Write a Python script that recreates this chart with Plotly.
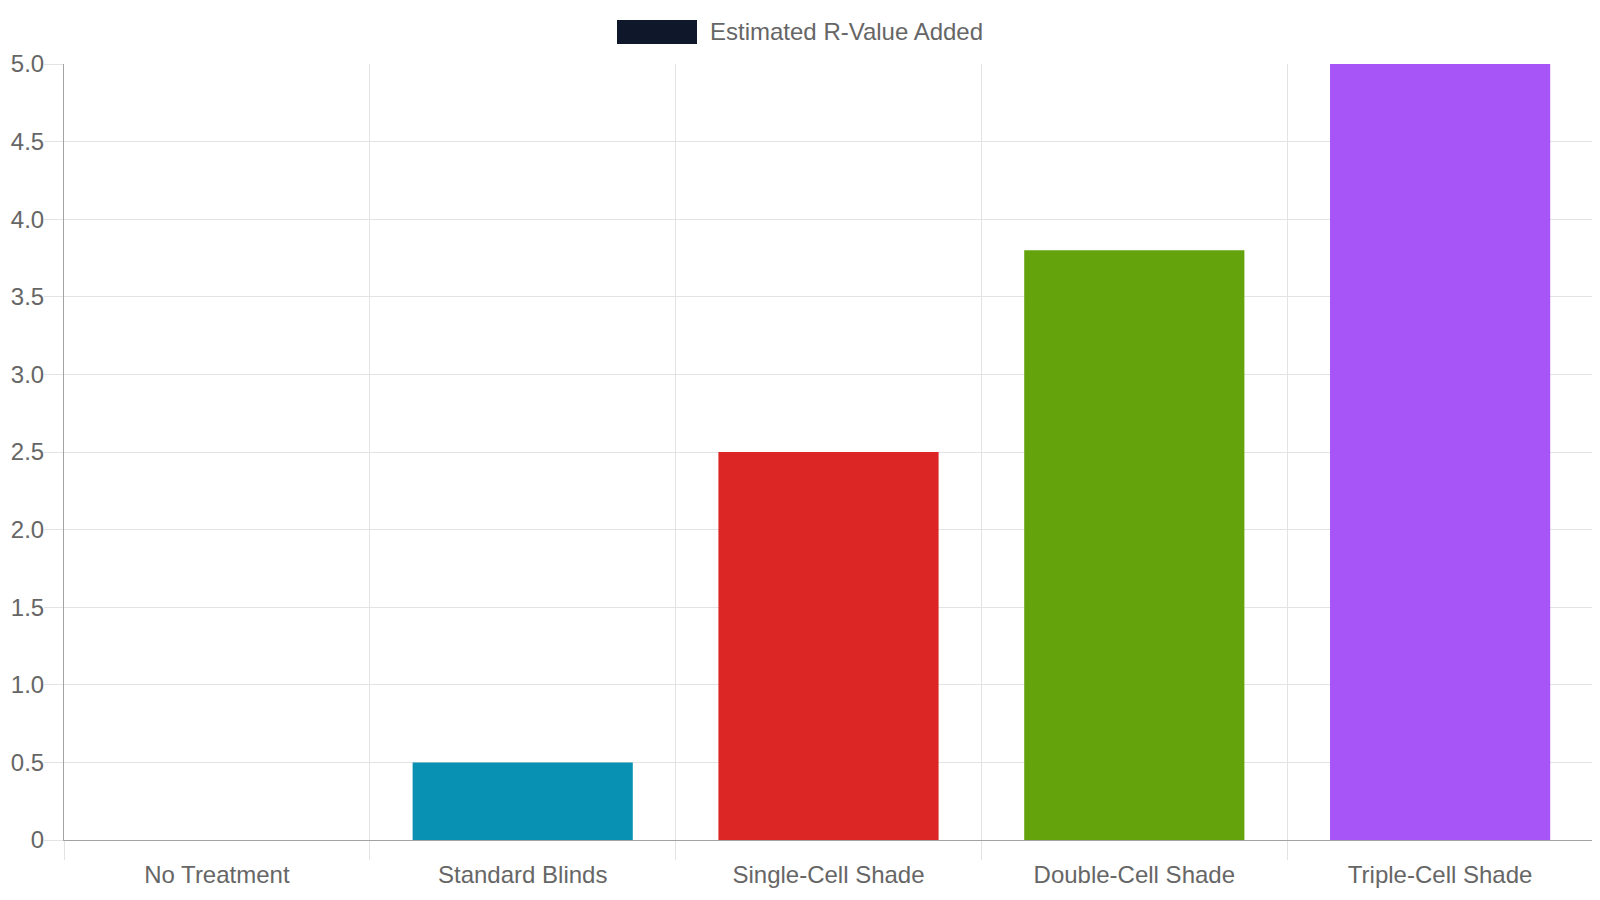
import plotly.graph_objects as go

categories = ["No Treatment", "Standard Blinds", "Single-Cell Shade", "Double-Cell Shade", "Triple-Cell Shade"]
r_values = [0, 0.5, 2.5, 3.8, 5.0]
bar_colors = ["#94a3b8", "#0891b2", "#dc2626", "#65a30d", "#a855f7"]
series_name = "Estimated R-Value Added"
legend_color = "#0f172a"
y_tickvals = [0, 0.5, 1.0, 1.5, 2.0, 2.5, 3.0, 3.5, 4.0, 4.5, 5.0]
y_ticktext = ["0", "0.5", "1.0", "1.5", "2.0", "2.5", "3.0", "3.5", "4.0", "4.5", "5.0"]

FONT = "Liberation Sans, Arial, Helvetica, sans-serif"
GRID = "#e3e3e3"
AXIS = "#a3a3a3"
TXT = "#666666"
FS = 24

# page body has an 8px default margin; compensate so the plot area lands at x 64..1593, y 64..840
fig = go.Figure()
fig.add_trace(go.Bar(
    x=categories, y=r_values, name=series_name,
    marker=dict(color=bar_colors, line=dict(width=0)),
    showlegend=False,
))

fig.update_layout(
    width=1592, height=892,
    margin=dict(l=56, r=7, t=56, b=60),
    paper_bgcolor="white", plot_bgcolor="white",
    font=dict(family=FONT, size=FS, color=TXT),
    bargap=0.28,
    showlegend=False,
    xaxis=dict(
        type="category", tickson="boundaries", automargin=False,
        showgrid=True, gridcolor=GRID, gridwidth=1,
        ticks="outside", ticklen=19, tickcolor=GRID, tickwidth=1,
        ticklabelstandoff=13,
        showline=True, linecolor=AXIS, linewidth=1,
        tickfont=dict(family=FONT, size=FS, color=TXT),
        fixedrange=True,
    ),
    yaxis=dict(
        range=[0, 5], tickvals=y_tickvals, ticktext=y_ticktext, automargin=False,
        showgrid=True, gridcolor=GRID, gridwidth=1,
        zeroline=True, zerolinecolor=AXIS, zerolinewidth=1,
        ticks="outside", ticklen=19, tickcolor=GRID, tickwidth=1,
        ticklabelstandoff=-5,
        showline=True, linecolor=AXIS, linewidth=1,
        tickfont=dict(family=FONT, size=FS, color=TXT),
        fixedrange=True,
    ),
    shapes=[
        dict(type="rect", xref="paper", yref="paper",
             x0=(617 - 64) / 1529, x1=(697 - 64) / 1529,
             y0=1 + (64 - 44) / 776, y1=1 + (64 - 20) / 776,
             fillcolor=legend_color, line=dict(width=0)),
    ],
    annotations=[
        dict(text=series_name, xref="paper", yref="paper",
             x=(708 - 64) / 1529, y=1 + (64 - 32) / 776,
             xanchor="left", yanchor="middle", showarrow=False,
             font=dict(family=FONT, size=FS, color=TXT)),
    ],
)

fig.write_html("out.html")
